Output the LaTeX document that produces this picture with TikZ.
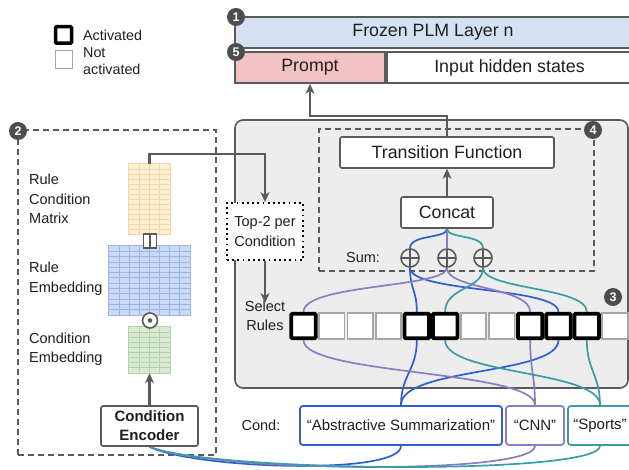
\documentclass[tikz,border=0pt]{standalone}
\usepackage{fontspec}
\setmainfont{Liberation Sans}
\usetikzlibrary{arrows.meta}
\definecolor{edgec}{HTML}{5A5A5A}
\definecolor{badgec}{HTML}{4D4D4D}
\definecolor{frozen}{HTML}{D3E1F3}
\definecolor{promptc}{HTML}{F3C3C3}
\definecolor{panel}{HTML}{EDEDED}
\definecolor{nactc}{HTML}{A6A6A6}
\definecolor{cblue}{HTML}{2D5FD3}
\definecolor{cpurple}{HTML}{8E7CC3}
\definecolor{cteal}{HTML}{3A9CA6}
\definecolor{yfill}{HTML}{FDF0D2}
\definecolor{yline}{HTML}{F3D6A4}
\definecolor{bfill}{HTML}{C9D9F6}
\definecolor{bline}{HTML}{9DB6EA}
\definecolor{gfill}{HTML}{D9EAD3}
\definecolor{gline}{HTML}{B5D4A6}
\definecolor{txt}{HTML}{1F1F1F}
\pgfdeclarelayer{back}
\pgfdeclarelayer{mid}
\pgfsetlayers{back,mid,main}
\tikzset{
  bigtxt/.style={font=\fontsize{17.8}{20}\selectfont},
  midtxt/.style={font=\fontsize{14.5}{19.5}\selectfont, text=txt},
  condtxt/.style={font=\fontsize{15}{18}\selectfont},
  plainbox/.style={draw=edgec, line width=1.6pt, rounded corners=2pt, fill=white, inner sep=0pt, text=txt},
  badge/.style={circle, fill=badgec, text=white, font=\fontsize{12.5}{12.5}\selectfont\bfseries, minimum size=18pt, inner sep=0pt},
  arr/.style={draw=edgec, line width=2.1pt, -{Stealth[length=10pt,width=9pt,inset=3pt]}},
  actbox/.style={draw=black, line width=3.8pt, fill=white, minimum size=24.5pt, inner sep=0pt, rounded corners=1pt},
  nactbox/.style={draw=nactc, line width=1.8pt, fill=white, minimum size=25.5pt, inner sep=0pt},
  dashbox/.style={draw=edgec, line width=1.6pt, dash pattern=on 6pt off 4pt, inner sep=0pt},
  oplusn/.style={circle, draw=edgec, line width=1.6pt, fill=panel, minimum size=18pt, inner sep=0pt,
    path picture={\draw[edgec, line width=1.6pt] (path picture bounding box.north) -- (path picture bounding box.south) (path picture bounding box.west) -- (path picture bounding box.east);}},
  wire/.style={line width=1.7pt},
  condbox/.style={draw=#1, line width=1.8pt, rounded corners=3pt, fill=white, inner sep=0pt, minimum height=39pt, condtxt, text=txt},
  gridn/.style={inner sep=0pt, fill=#1, draw=none},
  legtxt/.style={font=\fontsize{14.3}{17}\selectfont, text=txt, inner sep=0pt},
}
\begin{document}
\begin{tikzpicture}[x=1pt,y=-1pt]
\useasboundingbox (0,0) rectangle (629,470);

% ---------- back layer: panels ----------
\begin{pgfonlayer}{back}
\fill[white] (0,0) rectangle (629,470);
\node[draw=edgec, line width=1.6pt, fill=panel, rounded corners=8pt, minimum width=393pt, minimum height=268pt, inner sep=0pt] (mod3) at (431.5,254) {};
\node[dashbox, minimum width=275pt, minimum height=142pt] (mod4) at (456.5,200) {};
\node[dashbox, minimum width=198pt, minimum height=325pt] (mod2) at (117,292.5) {};
\end{pgfonlayer}

% ---------- legend ----------
\node[draw=black, line width=3.5pt, minimum width=16pt, minimum height=16.5pt, inner sep=0pt, rounded corners=1pt] (legact) at (63.5,35) {};
\node[draw=nactc, line width=1.6pt, minimum width=17pt, minimum height=18pt, inner sep=0pt] (legnact) at (64,59.5) {};
\node[legtxt, anchor=west] (legacttxt) at (83,35) {Activated};
\node[legtxt, anchor=west, align=left] (legnacttxt) at (83,61.5) {Not\\activated};

% ---------- top layer boxes ----------
\node[draw=edgec, line width=1.6pt, fill=frozen, minimum width=396pt, minimum height=31pt, inner sep=0pt, bigtxt, text=txt] (frozen) at (433,32.5) {Frozen PLM Layer n};
\node[draw=edgec, line width=1.6pt, fill=promptc, minimum width=150pt, minimum height=31pt, inner sep=0pt, bigtxt, text=txt] (prompt) at (310,67.5) {Prompt};
\node[draw=edgec, line width=1.6pt, fill=white, minimum width=245pt, minimum height=31pt, inner sep=0pt, bigtxt, text=txt] (hidden) at (509.5,67.5) {Input hidden states};

% ---------- module 2 ----------
\node[gridn=yfill, minimum width=41pt, minimum height=70pt] (rcm) at (149.5,199) {};
\foreach \i in {1,2,3} \draw[yline, line width=0.8pt] ({129+\i*10.25},164) -- ({129+\i*10.25},234);
\foreach \j in {1,...,13} \draw[yline, line width=0.8pt] (129,{164+\j*5}) -- (170,{164+\j*5});
\draw[yline, line width=0.8pt] (rcm.north west) rectangle (rcm.south east);

\node[gridn=bfill, minimum width=81pt, minimum height=69pt] (remb) at (149.5,280.5) {};
\foreach \i in {1,...,7} \draw[bline, line width=0.8pt] ({109+\i*10.125},246) -- ({109+\i*10.125},315);
\foreach \j in {1,...,12} \draw[bline, line width=0.8pt] (109,{246+\j*5.31}) -- (190,{246+\j*5.31});
\draw[bline, line width=0.8pt] (remb.north west) rectangle (remb.south east);

\node[gridn=gfill, minimum width=41pt, minimum height=46pt] (cemb) at (149.5,350) {};
\foreach \i in {1,2,3} \draw[gline, line width=0.8pt] ({129+\i*10.25},327) -- ({129+\i*10.25},373);
\foreach \j in {1,...,8} \draw[gline, line width=0.8pt] (129,{327+\j*5.11}) -- (170,{327+\j*5.11});
\draw[gline, line width=0.8pt] (cemb.north west) rectangle (cemb.south east);

\node[draw=edgec, line width=1.3pt, fill=white, minimum width=6pt, minimum height=14pt, inner sep=0pt] (catl) at (146.3,241) {};
\node[draw=edgec, line width=1.3pt, fill=white, minimum width=6pt, minimum height=14pt, inner sep=0pt] (catr) at (153.2,241) {};

\node[circle, draw=edgec, line width=1.6pt, fill=white, minimum size=15pt, inner sep=0pt] (odot) at (150,320.5) {};
\fill[edgec] (odot.center) circle[radius=2.3pt];

\node[midtxt, anchor=west, align=left, inner sep=0pt] (lblrcm) at (29,199) {Rule\\Condition\\Matrix};
\node[midtxt, anchor=west, align=left, inner sep=0pt] (lblremb) at (29,279) {Rule\\Embedding};
\node[midtxt, anchor=west, align=left, inner sep=0pt] (lblcemb) at (29,349.5) {Condition\\Embedding};

\node[plainbox, minimum width=97pt, minimum height=40pt, align=center, font=\fontsize{15}{19}\selectfont\bfseries] (enc) at (149.5,426) {Condition\\Encoder};
\draw[arr] (enc.north) -- (cemb.south);

% ---------- module 3 / 4 ----------
\node[draw=black, line width=1.8pt, dash pattern=on 1.8pt off 3.4pt, fill=white, minimum width=76pt, minimum height=57pt, inner sep=0pt, midtxt, align=center] (top2) at (265,231.5) {Top-2 per\\Condition};

\node[plainbox, minimum width=214pt, minimum height=31pt, bigtxt] (trans) at (447,152.5) {Transition Function};
\node[plainbox, minimum width=92pt, minimum height=31pt, bigtxt] (concat) at (447,212.5) {Concat};
\node[midtxt, inner sep=0pt] (sumlbl) at (363,258) {Sum:};
\node[oplusn] (p1) at (410,258) {};
\node[oplusn] (p2) at (447,258) {};
\node[oplusn] (p3) at (483,258) {};

\node[midtxt, align=center, inner sep=0pt] (sel) at (265,316) {Select\\Rules};
\coordinate (selin) at (265,303);

\foreach \i in {1,2,3,6,7,11} \node[nactbox] (s\i) at ({303.5+28.33*\i},326) {};
\foreach \i in {0,4,5,8,9,10} \node[actbox] (s\i) at ({303.5+28.33*\i},326) {};

\node[midtxt, inner sep=0pt] (condlbl) at (261,425) {Cond:};
\node[condbox=cblue, minimum width=202pt] (abs) at (401,425.5) {“Abstractive Summarization”};
\node[condbox=cpurple, minimum width=58pt] (cnn) at (535,425.5) {“CNN”};
\node[condbox=cteal, minimum width=64pt] (sports) at (600,425.5) {“Sports”};

% ---------- grey arrows ----------
\draw[arr] (concat.north) -- (trans.south);
\draw[arr] (trans.north) -- ++(0,-20) -| (prompt.south);
\draw[arr] (rcm.north) -- ++(0,-10) -| (top2.north);
\draw[arr] (top2.south) -- (selin);

% ---------- coloured wires ----------
\begin{pgfonlayer}{mid}
% blue
\draw[wire, cblue] (abs.north) .. controls +(0,-30) and +(0,30) .. (s4.south);
\draw[wire, cblue] (abs.north) .. controls +(0,-38) and +(0,35) .. (s9.south);
\draw[wire, cblue] (s4.north) .. controls +(0,-22) and +(0,22) .. (p1.south);
\draw[wire, cblue] (s9.north) .. controls +(0,-25) and +(0,25) .. (p1.south);
\draw[wire, cblue] (p1.north) .. controls +(0,-14) and +(0,10) .. (concat.south);
% purple
\draw[wire, cpurple] (cnn.north) .. controls +(0,-30) and +(0,30) .. (s8.south);
\draw[wire, cpurple] (cnn.north) .. controls +(0,-35) and +(0,35) .. (s0.south);
\draw[wire, cpurple] (s0.north) .. controls +(0,-28) and +(0,20) .. (p2.south);
\draw[wire, cpurple] (s8.north) .. controls +(0,-25) and +(0,22) .. (p2.south);
\draw[wire, cpurple] (p2.north) -- (concat.south);
% teal
\draw[wire, cteal] (sports.north) .. controls +(0,-30) and +(0,30) .. (s10.south);
\draw[wire, cteal] (sports.north) .. controls +(0,-35) and +(0,35) .. (s5.south);
\draw[wire, cteal] (s5.north) .. controls +(0,-25) and +(0,22) .. (p3.south);
\draw[wire, cteal] (s10.north) .. controls +(0,-25) and +(0,22) .. (p3.south);
\draw[wire, cteal] (p3.north) .. controls +(0,-14) and +(0,10) .. (concat.south);
% to encoder
\draw[wire, cblue] (abs.south) .. controls +(0,30) and +(45,22) .. (enc.south);
\draw[wire, cpurple] (cnn.south) .. controls +(0,30) and +(60,25) .. (enc.south);
\draw[wire, cteal] (sports.south) .. controls +(0,30) and +(60,25) .. (enc.south);
\end{pgfonlayer}

% ---------- badges ----------
\node[badge] (b1) at (236,17) {1};
\node[badge] (b5) at (236,52) {5};
\node[badge] (b2) at (18,131) {2};
\node[badge] (b4) at (593,130) {4};
\node[badge] (b3) at (613,297) {3};
\end{tikzpicture}
\end{document}
